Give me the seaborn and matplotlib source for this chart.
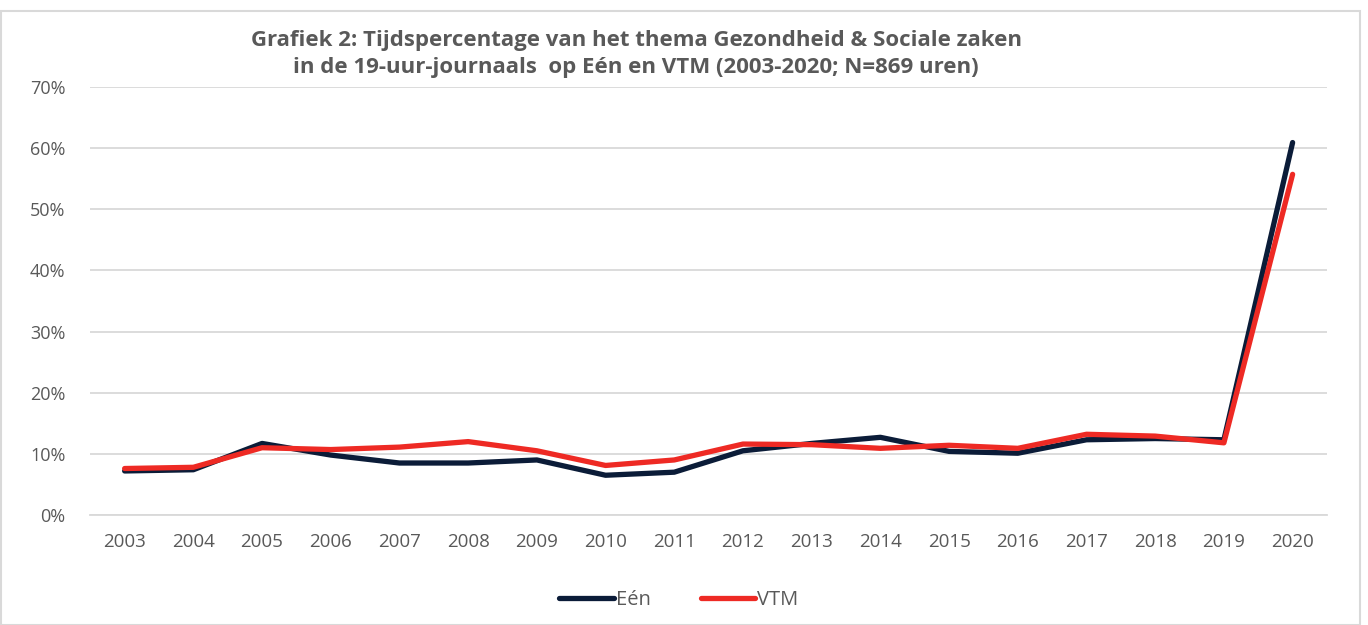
import pandas as pd
import seaborn as sns
import matplotlib.pyplot as plt
from matplotlib.patches import Rectangle

years = [str(y) for y in range(2003, 2021)]
een = [7.2, 7.4, 11.7, 9.8, 8.5, 8.5, 9.0, 6.5, 7.0, 10.5, 11.7, 12.7, 10.4, 10.1, 12.3, 12.5, 12.3, 60.9]
vtm = [7.6, 7.8, 11.0, 10.7, 11.1, 12.0, 10.5, 8.1, 9.0, 11.6, 11.5, 10.9, 11.4, 10.9, 13.2, 12.9, 11.8, 55.7]
series = ['Eén', 'VTM']
colors = ['#0b1c38', '#ee2a24']

df = pd.DataFrame({'jaar': years * 2,
                   'pct': een + vtm,
                   'zender': ['Eén'] * len(years) + ['VTM'] * len(years)})

sns.set_style('white')
plt.rcParams['font.family'] = ['Open Sans', 'DejaVu Sans']
txt = '#595959'

fig = plt.figure(figsize=(13.68, 6.25), dpi=100)
ax = fig.add_axes([0.066, 0.176, 0.904, 0.685])

sns.lineplot(data=df, x='jaar', y='pct', hue='zender', hue_order=series,
             palette=colors, linewidth=3.8, sort=False, ax=ax,
             solid_capstyle='round')

ax.set_xlim(-0.5, len(years) - 0.5)
ax.set_ylim(0, 70)
ax.set_yticks(range(0, 71, 10))
ax.set_yticklabels([f'{v}%' for v in range(0, 71, 10)])
ax.yaxis.grid(True, color='#d9d9d9', linewidth=1.3)
ax.set_axisbelow(True)
for s in ['top', 'right', 'left']:
    ax.spines[s].set_visible(False)
ax.spines['bottom'].set_color('#d9d9d9')
ax.spines['bottom'].set_linewidth(1.3)

# category axis: ticks between categories, labels at centers
ax.set_xticks([i - 0.5 for i in range(len(years) + 1)], minor=True)
ax.tick_params(axis='x', which='minor', length=6, width=1.3, color='#d9d9d9', direction='out')
ax.tick_params(axis='x', which='major', length=0, pad=13, labelsize=13.5, labelcolor=txt)
ax.tick_params(axis='y', length=0, pad=18, labelsize=13, labelcolor=txt)
ax.set_xlabel('')
ax.set_ylabel('')

ax.legend(loc='center', bbox_to_anchor=(0.476, -0.198), ncol=2, frameon=False,
          fontsize=14.5, labelcolor=txt, handlelength=2.7, columnspacing=2.5, handletextpad=0.1)

fig.text(0.465, 0.914, 'Grafiek 2: Tijdspercentage van het thema Gezondheid & Sociale zaken\n'
         'in de 19-uur-journaals  op Eén en VTM (2003-2020; N=869 uren)',
         ha='center', va='center', fontsize=16, fontweight='bold', color=txt, linespacing=1.38)

fig.patches.append(Rectangle((0.001, 0.0), 0.993, 0.983, transform=fig.transFigure,
                             fill=False, edgecolor='#d9d9d9', linewidth=1.5))

fig.savefig('out.png', dpi=100)
